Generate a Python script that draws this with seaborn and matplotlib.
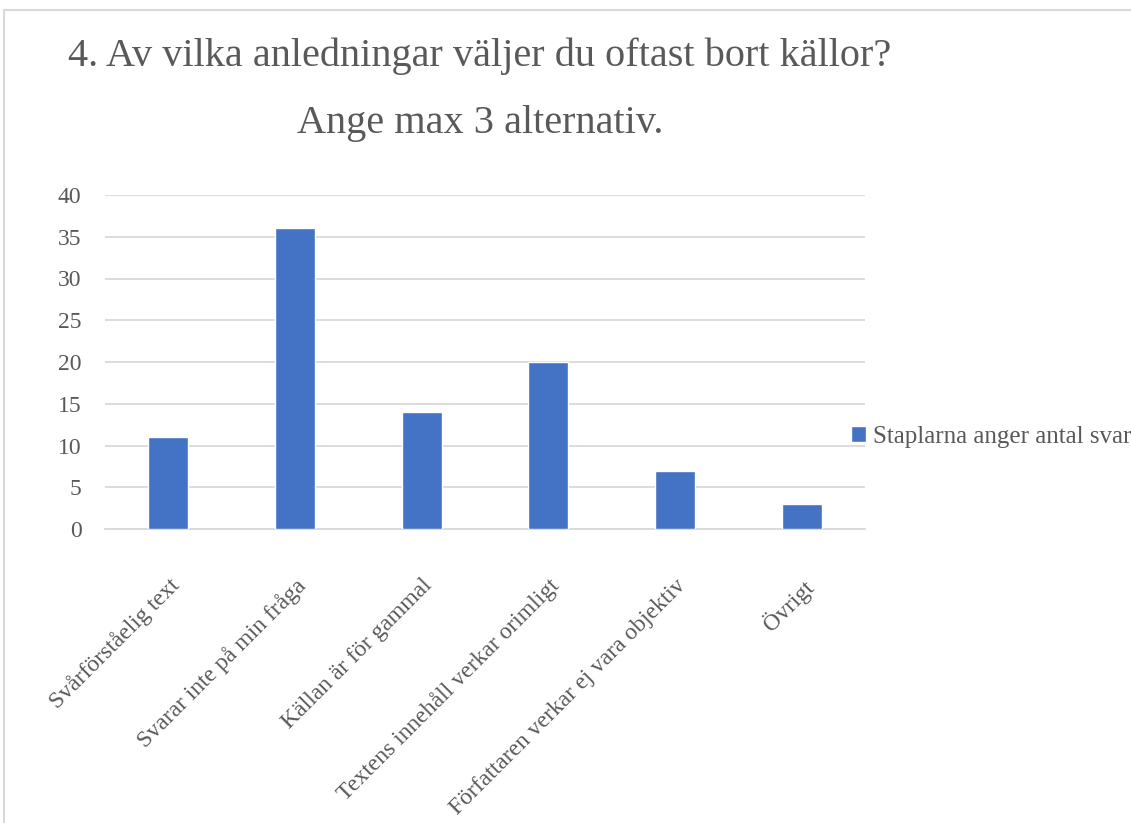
import matplotlib.pyplot as plt
import seaborn as sns
from matplotlib.patches import Patch, Rectangle

categories = ['Svårförståelig text', 'Svarar inte på min fråga', 'Källan är för gammal',
              'Textens innehåll verkar orimligt', 'Författaren verkar ej vara objektiv', 'Övrigt']
values = [11, 36, 14, 20, 7, 3]
yticks = [0, 5, 10, 15, 20, 25, 30, 35, 40]
series_label = 'Staplarna anger antal svar'
title_lines = ['4. Av vilka anledningar väljer du oftast bort källor?', 'Ange max 3 alternativ.']

bar_color = '#4472C4'
text_color = '#595959'
grid_color = '#D9D9D9'

sns.set_style('white')
plt.rcParams['font.family'] = ['Liberation Serif', 'DejaVu Serif']

fig = plt.figure(figsize=(11.31, 8.23), dpi=100)

# light chart border like the Excel chart area
fig.patches.append(Rectangle((4 / 1131, -0.1), 1.2, 1 - 10 / 823 + 0.1, transform=fig.transFigure,
                             fill=False, edgecolor=grid_color, linewidth=1.5))

ax = fig.add_axes([105 / 1131, 1 - 529 / 823, 760 / 1131, 334 / 823])
sns.barplot(x=categories, y=values, color=bar_color, width=0.315, saturation=1, ax=ax, zorder=3)

ax.set_ylim(0, 40)
ax.set_xlim(-0.5, len(categories) - 0.5)
ax.set_yticks(yticks)
ax.yaxis.grid(True, color=grid_color, linewidth=1.3, zorder=0)
ax.set_axisbelow(True)
sns.despine(ax=ax, left=True, top=True, right=True, bottom=False)
ax.spines['bottom'].set_color(grid_color)
ax.spines['bottom'].set_linewidth(1.3)
ax.set_xlabel('')
ax.set_ylabel('')
ax.tick_params(axis='y', length=0, labelsize=17, labelcolor=text_color, pad=17)
ax.tick_params(axis='x', length=0, labelsize=17, labelcolor=text_color, pad=33)
for lab in ax.get_xticklabels():
    lab.set_rotation(45)
    lab.set_ha('right')
    lab.set_va('top')
    lab.set_rotation_mode('anchor')

fig.text(480 / 1131, 1 - 56 / 823, title_lines[0], ha='center', va='center',
         fontsize=29, color=text_color)
fig.text(480 / 1131, 1 - 123 / 823, title_lines[1], ha='center', va='center',
         fontsize=29, color=text_color)

fig.legend(handles=[Patch(facecolor=bar_color, label=series_label)],
           loc='center left', bbox_to_anchor=(838 / 1131, 1 - 437 / 823),
           frameon=False, fontsize=18, labelcolor=text_color,
           handlelength=0.6, handleheight=0.6, handletextpad=0.3, borderpad=0)

fig.savefig('out.png', dpi=100)
